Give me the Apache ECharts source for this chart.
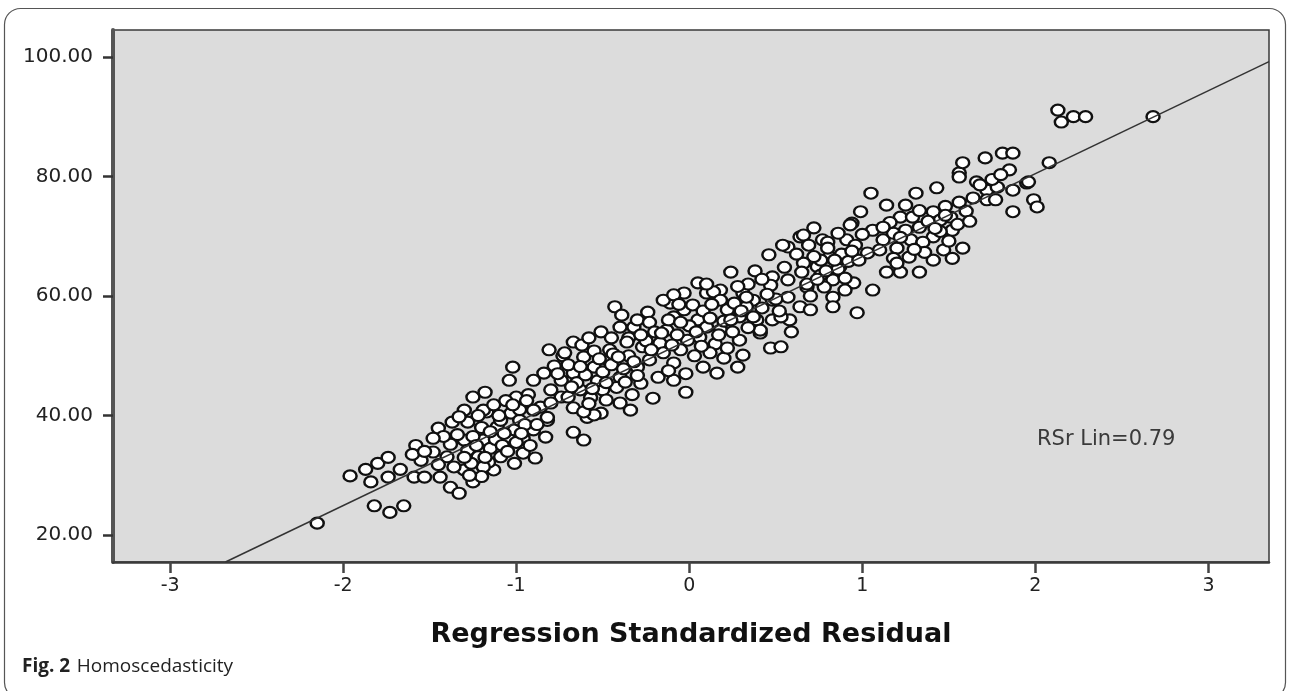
<!DOCTYPE html>
<html><head><meta charset="utf-8">
<script src="https://cdn.jsdelivr.net/npm/echarts@6/dist/echarts.min.js"></script>
<style>html,body{margin:0;padding:0;background:#fff}#c{width:1290px;height:691px}</style>
</head><body><div id="c"></div>
<script>
// Regression standardized residual (x) and score (y)
const residual = [
-2.15,-1.96,-1.87,-1.80,-1.74,-1.84,-1.74,-1.67,-1.59,-1.53,-1.58,-1.82,-1.73,-1.65,
-0.81,-1.02,-1.04,-1.00,-1.25,-1.18,-1.30,-1.37,-1.45,-1.28,-1.48,-1.44,-1.38,-1.33,-1.25,-1.30,-1.13,-1.16,-1.09,-1.01,-0.96,-0.89,-0.96,-0.90,-0.83,-0.82,-0.86,-0.80,-0.84,-0.90,-1.17,-1.11,-1.05,-1.19,-1.09,-1.03,-1.01,-1.30,-1.28,-1.22,-1.40,-1.36,-1.19,
-0.67,-0.61,-0.73,-0.67,-0.51,-0.43,-0.39,-0.24,-0.32,-0.11,0.05,0.24,-0.03,0.10,0.18,0.46,0.48,0.39,0.48,0.58,0.59,0.41,0.47,0.53,0.31,0.28,0.16,0.08,-0.02,-0.09,-0.21,-0.34,-0.40,-0.51,-0.59,-0.67,-0.74,-0.80,-0.82,-0.90,-0.98,-1.19,
-0.40,-0.35,-0.30,-0.23,-0.15,-0.09,0.14,0.18,0.31,0.37,0.47,0.57,0.41,0.20,-0.55,-0.61,-0.28,-0.30,-0.23,-0.17,-0.13,-0.09,-0.03,0.05,0.06,0.10,-0.01,-0.05,-0.09,-0.15,-0.18,-0.47,-0.55,-0.61,-0.67,-0.74,-0.46,-0.40,-0.50,-0.63,-0.70,0.18,0.22,0.29,0.29,0.37,0.33,
0.64,0.57,0.57,0.64,0.72,0.77,0.74,0.81,0.83,0.83,0.83,0.97,1.06,0.95,0.91,0.94,0.99,1.05,1.14,1.06,1.12,1.03,1.10,1.14,1.22,1.33,1.22,1.29,1.28,1.33,1.31,1.43,1.41,1.45,1.41,1.41,1.47,1.52,1.58,1.51,1.56,1.56,1.58,1.66,1.64,1.72,1.71,1.81,1.87,1.78,1.85,1.87,1.95,1.87,1.99,2.01,1.72,
2.13,2.15,2.22,2.29,2.68,2.08,1.96,1.77,1.56,
0.54,0.66,0.80,0.93,0.53,0.33,0.48,0.68,0.76,0.87,
-1.25,-1.20,-1.15,-1.12,-1.08,-1.05,-1.00,-0.95,-0.98,-1.13,-1.22,-1.34,-1.38,-1.42,-1.26,-1.06,-0.93,-0.88,-1.15,-1.30,-1.45,-1.55,-1.60,-1.20,
-0.70,-0.65,-0.60,-0.57,-0.53,-0.50,-0.45,-0.42,-0.38,-0.35,-0.33,-0.30,-0.27,-0.36,-0.55,-0.62,-0.72,-0.78,-0.76,-0.48,-0.44,-0.58,
-0.20,-0.25,-0.12,-0.07,0.00,0.02,0.08,0.12,0.15,0.20,0.25,0.26,0.12,0.03,-0.02,-0.12,0.22,0.34,0.34,0.28,0.42,0.50,0.52,0.45,0.55,0.38,0.42,
0.68,0.70,0.72,0.76,0.78,0.80,0.86,0.88,0.90,0.92,0.96,0.98,0.66,0.62,0.70,0.86,1.00,0.65,
1.18,1.20,1.25,1.27,1.35,1.38,1.36,1.45,1.50,1.55,1.48,1.18,1.16,1.25,1.60,1.62,1.68,1.75,1.80,1.52,
-1.23,-1.10,-1.07,-0.97,-0.92,-1.33,-1.18,-1.27,-1.48,-1.53,-1.02,-0.94,
-0.68,-0.63,-0.56,-0.52,-0.48,-0.41,-0.37,-0.32,-0.28,-0.45,-0.58,
-0.22,-0.16,-0.10,-0.05,0.04,0.07,0.13,0.17,0.24,0.30,-0.06,0.10,
0.74,0.84,0.90,0.94,0.69,0.79,
1.12,1.22,1.30,1.42,1.48,1.33,1.20
];
const score = [
22,29.9,31,32,33,28.9,29.7,31,29.7,29.7,35,24.9,23.8,24.9,
51,48.1,45.9,43.1,43.1,43.9,40.9,38.9,37.9,38.9,33.9,29.7,28,27,28.9,30.9,30.9,32.2,33.1,32,33.7,32.9,36.2,37.6,36.4,39.2,41.4,44.3,47.1,45.9,40.6,38.1,36.4,35.9,39.2,40.4,37.6,35.9,34.2,33.1,33.1,31.4,31.4,
37.2,35.9,50,52.3,54,58.2,56.8,57.3,54.8,58.8,62.2,64,60.5,60.5,61,66.9,63.2,56,56,56,54,53.8,51.3,51.5,50.1,48.1,47.1,48.1,43.9,45.9,42.9,40.9,42.1,40.4,39.7,41.3,43.1,42.1,39.7,40.9,39.2,40.9,
54.8,53,56,55.6,59.3,60.2,60.7,59.3,60.5,59.3,61.8,62.7,54.3,49.6,40.1,40.6,45.4,48.1,49.3,52.1,54.3,56.5,57.7,56,53.1,54.8,52.6,51,48.8,50.5,46.4,49.3,48.1,49.8,47.1,45.9,51,46.4,44.3,44.3,43.1,54.3,57.7,56.5,52.6,56.5,58.2,
58.2,59.8,68.2,69.9,71.4,69.4,64.9,66.5,62.7,59.8,58.2,57.2,61,62.2,69.4,72.2,74.1,77.2,75.2,71,69.4,67.2,67.7,64,64,64,73.2,73.2,69.4,71.5,77.2,78.1,74.1,72.7,69.9,66,67.7,71,68,73.2,75.7,80.6,82.3,79.1,76.4,77.7,83.1,83.9,83.9,78.2,81.1,77.7,78.9,74.1,76.1,74.9,76.1,
91.1,89.1,90,90,90,82.3,79.1,76.1,79.9,
68.5,70.2,69,71.9,56.5,59.8,59.3,61.5,66,64.9,
36.5,38,34.5,36,35,34,35.5,38.5,41,41.8,40,36.8,35.2,36.5,32,42.5,43.5,38.5,37.3,33,31.8,32.5,33.5,29.8,
48.5,45.5,46.8,43,45.8,47.3,48.5,44.7,47.8,50,43.5,46.7,51.5,52.3,50.8,51.8,50.5,48.3,47,42.6,50.3,42,
54,52.5,56,53.5,55,58.5,57.5,56.3,52,55.8,54,58.8,50.5,50,47,47.5,51.3,54.7,62,61.6,58,59.5,57.5,60.3,64.8,64.2,62.8,
62,60,66.6,63.5,61.5,68,64.5,67,63,65.8,68.5,66,65.5,67,57.7,70.5,70.3,64,
70.5,68,71,66.5,69,72.5,67.3,70.8,69.2,72,75,66.3,72.3,75.2,74.2,72.5,78.6,79.5,80.3,66.3,
35,40,37,37,35,39.8,33,30,36.2,34,41.8,42.5,
44.8,48.2,44.5,49.5,45.5,49.8,45.6,49,53.5,53,53,
51,53.8,51.8,55.6,54,51.6,58.6,53.5,56,57.5,58.6,62,
62.8,66,61,67.5,68.5,64.2,
71.5,69.8,67.8,71.3,73.5,74.3,65.5
];
const xTicks = [-3, -2, -1, 0, 1, 2, 3];
const yTicks = [20, 40, 60, 80, 100];
// fitted line end points
const fitX = [-2.68, 3.35];
const fitY = [15.5, 99.2];
const fitLabel = 'RSr Lin=0.79';
const xTitle = 'Regression Standardized Residual';

const pts = residual.map((x, i) => [x, score[i]]);
const fit = fitX.map((x, i) => [x, fitY[i]]);

const chart = echarts.init(document.getElementById('c'));
chart.setOption({
  animation: false,
  backgroundColor: '#fff',
  grid: {
    left: 113, right: 21, top: 30, bottom: 129,
    show: true, backgroundColor: '#dcdcdc', borderColor: '#3a3a3a', borderWidth: 1.5,
    outerBoundsMode: 'none', containLabel: false
  },
  xAxis: {
    type: 'value', min: -3.33, max: 3.35,
    splitLine: { show: false },
    axisLine: { onZero: false, lineStyle: { color: '#3a3a3a', width: 2.5 } },
    axisTick: { length: 11, lineStyle: { color: '#444', width: 2.5 }, customValues: xTicks },
    axisLabel: { customValues: xTicks, color: '#222', fontFamily: 'DejaVu Sans', fontSize: 19, margin: 15 },
    name: xTitle, nameLocation: 'middle', nameGap: 59,
    nameTextStyle: { fontFamily: 'DejaVu Sans', fontWeight: 'bold', fontSize: 27, color: '#111' }
  },
  yAxis: {
    type: 'value', min: 15.5, max: 104.5,
    splitLine: { show: false },
    axisLine: { onZero: false, lineStyle: { color: '#555', width: 4 } },
    axisTick: { length: 10, lineStyle: { color: '#333', width: 2.5 }, customValues: yTicks },
    axisLabel: { customValues: yTicks, color: '#222', fontFamily: 'DejaVu Sans', fontSize: 20, margin: 20,
      formatter: v => v.toFixed(2) }
  },
  series: [
    {
      type: 'scatter', data: pts, symbol: 'circle', symbolSize: [13, 11],
      itemStyle: { color: '#fff', borderColor: '#111', borderWidth: 2.3, opacity: 1 },
      z: 2, silent: true
    },
    {
      type: 'line', data: fit, symbol: 'none', z: 3, silent: true,
      lineStyle: { color: '#333', width: 1.5 }
    }
  ],
  graphic: [
    { type: 'rect', silent: true, z: -1,
      shape: { x: 4.5, y: 8.5, width: 1281, height: 690, r: 16 },
      style: { fill: 'none', stroke: '#555', lineWidth: 1.2 } },
    { type: 'text', left: 1037, top: 429, silent: true,
      style: { text: fitLabel, fontFamily: 'DejaVu Sans', fontSize: 21, fill: '#3a3a3a' } },
    { type: 'text', left: 22, top: 657, silent: true,
      style: { text: '{b|Fig. 2}  {n|Homoscedasticity}',
        rich: { b: { fontFamily: 'Open Sans', fontWeight: 'bold', fontSize: 19, fill: '#222' },
                n: { fontFamily: 'Open Sans', fontSize: 19, fill: '#222' } } } }
  ]
});
</script></body></html>
